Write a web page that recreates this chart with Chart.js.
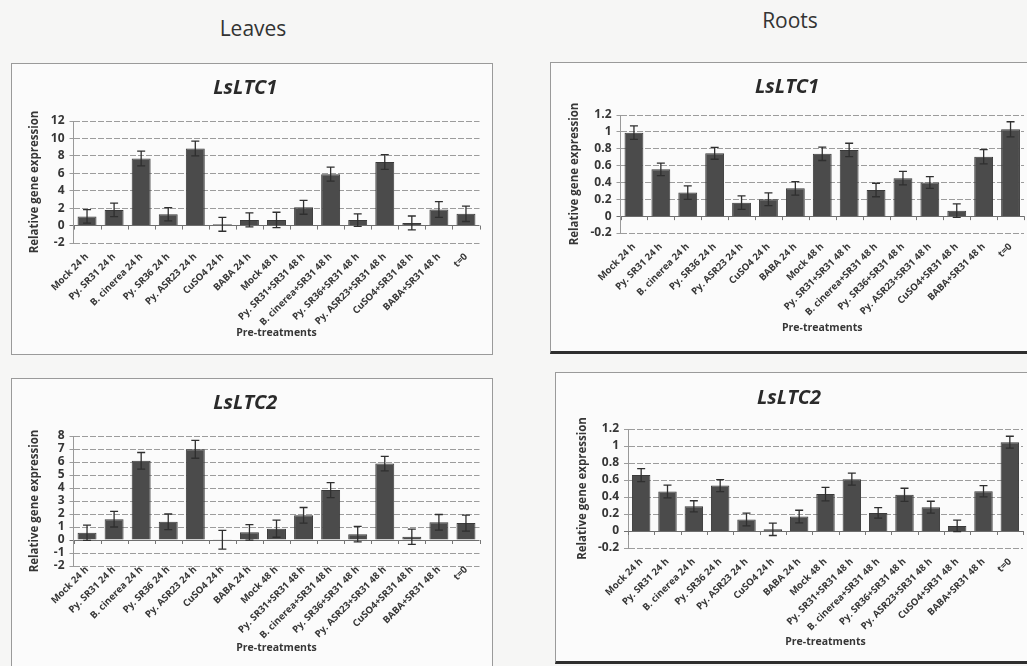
<!DOCTYPE html>
<html>
<head>
<meta charset="utf-8">
<script src="https://cdn.jsdelivr.net/npm/chart.js@4.4.1/dist/chart.umd.min.js"></script>
<style>
  html, body { margin: 0; padding: 0; }
  body { width: 1027px; height: 666px; overflow: hidden; position: relative; background: #f6f6f5; font-family: "Open Sans", sans-serif; }
  .head { position: absolute; font-size: 21px; color: #333; transform: translate(-50%, -50%); }
  canvas { position: absolute; background: #fbfbfb; }
  .frame { position: absolute; box-sizing: border-box; border: 1px solid #9a9a9a; pointer-events: none; }
</style>
</head>
<body>
<div class="head" style="left:253px;top:28px">Leaves</div>
<div class="head" style="left:790px;top:20px">Roots</div>

<canvas id="c1" width="482" height="292" style="left:11px;top:63px"></canvas>
<canvas id="c2" width="480" height="292" style="left:550px;top:62px"></canvas>
<canvas id="c3" width="482" height="292" style="left:11px;top:378px"></canvas>
<canvas id="c4" width="475" height="292" style="left:555px;top:372px"></canvas>

<div class="frame" style="left:11px;top:63px;width:482px;height:292px"></div>
<div class="frame" style="left:550px;top:62px;width:480px;height:292px;border-bottom:3px solid #2e2e2e"></div>
<div class="frame" style="left:11px;top:378px;width:482px;height:292px"></div>
<div class="frame" style="left:555px;top:372px;width:475px;height:292px;border-bottom:3px solid #2e2e2e"></div>

<script>
var categories = ['Mock 24 h', 'Py. SR31 24 h', 'B. cinerea 24 h', 'Py. SR36 24 h', 'Py. ASR23 24 h',
  'CuSO4 24 h', 'BABA 24 h', 'Mock 48 h', 'Py. SR31+SR31 48 h', 'B. cinerea+SR31 48 h',
  'Py. SR36+SR31 48 h', 'Py. ASR23+SR31 48 h', 'CuSO4+SR31 48 h', 'BABA+SR31 48 h', 't=0'];

var leavesLTC1 = [1.05, 1.8, 7.7, 1.3, 8.85, 0.15, 0.65, 0.65, 2.1, 5.9, 0.63, 7.3, 0.3, 1.85, 1.35];
var leavesLTC1Err = [0.77, 0.78, 0.84, 0.75, 0.85, 0.8, 0.8, 0.88, 0.8, 0.8, 0.72, 0.85, 0.8, 0.9, 0.88];

var rootsLTC1 = [0.99, 0.555, 0.28, 0.745, 0.16, 0.2, 0.33, 0.74, 0.785, 0.31, 0.45, 0.4, 0.065, 0.705, 1.03];
var rootsLTC1Err = [0.08, 0.075, 0.08, 0.07, 0.08, 0.075, 0.08, 0.08, 0.08, 0.08, 0.08, 0.07, 0.08, 0.085, 0.09];

var leavesLTC2 = [0.56, 1.6, 6.09, 1.4, 6.98, 0.02, 0.59, 0.87, 1.9, 3.84, 0.45, 5.88, 0.25, 1.36, 1.3];
var leavesLTC2Err = [0.59, 0.6, 0.64, 0.6, 0.69, 0.72, 0.6, 0.66, 0.6, 0.58, 0.6, 0.56, 0.58, 0.6, 0.62];

var rootsLTC2 = [0.658, 0.465, 0.29, 0.534, 0.135, 0.02, 0.17, 0.434, 0.61, 0.213, 0.426, 0.28, 0.06, 0.468, 1.045];
var rootsLTC2Err = [0.077, 0.075, 0.066, 0.07, 0.075, 0.073, 0.074, 0.08, 0.07, 0.062, 0.077, 0.07, 0.068, 0.066, 0.07];

var textColor = '#363636';

// error bars + little category ticks on the zero line
var errorBars = {
  id: 'errorBars',
  afterDatasetsDraw: function(chart) {
    var c = chart.ctx;
    var y = chart.scales.y;
    var x = chart.scales.x;
    var errs = chart.data.datasets[0].errors;
    var vals = chart.data.datasets[0].data;
    c.save();
    c.strokeStyle = '#2f2f2f';
    c.lineWidth = 1.3;
    chart.getDatasetMeta(0).data.forEach(function(bar, i) {
      var top = y.getPixelForValue(vals[i] + errs[i]);
      var bot = y.getPixelForValue(vals[i] - errs[i]);
      c.beginPath();
      c.moveTo(bar.x, top); c.lineTo(bar.x, bot);
      c.moveTo(bar.x - 4, top); c.lineTo(bar.x + 4, top);
      c.moveTo(bar.x - 4, bot); c.lineTo(bar.x + 4, bot);
      c.stroke();
    });
    var y0 = y.getPixelForValue(0);
    var step = (x.right - x.left) / categories.length;
    c.strokeStyle = '#777';
    c.lineWidth = 1;
    for (var k = 0; k <= categories.length; k++) {
      var px = Math.round(x.left + k * step) + 0.5;
      c.beginPath(); c.moveTo(px, y0); c.lineTo(px, y0 + 4); c.stroke();
    }
    c.restore();
  }
};

function makePanel(id, name, values, errs, yMin, yMax, yStep, g) {
  new Chart(document.getElementById(id), {
    type: 'bar',
    data: {
      labels: categories,
      datasets: [{
        data: values,
        errors: errs,
        backgroundColor: '#4b4b4b',
        borderColor: '#3a3a3a',
        borderWidth: 1,
        categoryPercentage: 1,
        barPercentage: 0.7
      }]
    },
    options: {
      responsive: false,
      animation: false,
      layout: { padding: { top: 0, left: 0, right: g.right, bottom: 0 } },
      plugins: {
        legend: { display: false },
        tooltip: { enabled: false },
        title: {
          display: true,
          text: name,
          color: '#2a2a2a',
          font: { family: 'Open Sans', size: 20, weight: 'bold', style: 'italic', lineHeight: 1.2 },
          padding: { top: g.titleTop, bottom: g.titleBottom }
        }
      },
      scales: {
        x: {
          grid: { display: false },
          border: { display: false },
          ticks: {
            autoSkip: false, minRotation: 45, maxRotation: 45, padding: g.xPad,
            color: textColor, font: { family: 'Open Sans', size: 9.6, weight: 'bold' }
          },
          title: {
            display: true, text: 'Pre-treatments', color: textColor,
            font: { family: 'Open Sans', size: 10.5, weight: 'bold', lineHeight: 1.2 },
            padding: { top: 0, bottom: g.xTitleBottom }
          },
          afterFit: function(s) { s.height = g.xHeight; }
        },
        y: {
          min: yMin, max: yMax,
          ticks: {
            stepSize: yStep, autoSkip: false, padding: 5, color: textColor,
            font: { family: 'Open Sans', size: 12, weight: 'bold' },
            callback: function(v) { return String(+v.toFixed(1)); }
          },
          grid: {
            color: function(ctx) { return ctx.tick && Math.abs(ctx.tick.value) < 1e-9 ? '#6e6e6e' : '#9c9c9c'; },
            tickLength: 4
          },
          border: {
            display: true, color: '#999',
            dash: function(ctx) { return ctx.tick && Math.abs(ctx.tick.value) < 1e-9 ? [] : [6, 2]; }
          },
          title: {
            display: true, text: 'Relative gene expression', color: textColor,
            font: { family: 'Open Sans', size: 11.5, weight: 'bold', lineHeight: 1.2 },
            padding: { top: g.yTitleTop, bottom: 0 }
          },
          afterFit: function(s) { s.width = g.yWidth; }
        }
      }
    },
    plugins: [errorBars]
  });
}

makePanel('c1', 'LsLTC1', leavesLTC1, leavesLTC1Err, -2, 12, 2,
  { right: 13.5, yWidth: 62.5, titleTop: 13, titleBottom: 21, xHeight: 112, xPad: 0, xTitleBottom: 15.7, yTitleTop: 17 });
makePanel('c2', 'LsLTC1', rootsLTC1, rootsLTC1Err, -0.2, 1.2, 0.2,
  { right: 6, yWidth: 70.5, titleTop: 13, titleBottom: 16, xHeight: 121, xPad: 0, xTitleBottom: 19.7, yTitleTop: 18 });
makePanel('c3', 'LsLTC2', leavesLTC2, leavesLTC2Err, -2, 8, 1,
  { right: 13.5, yWidth: 62.5, titleTop: 13, titleBottom: 21, xHeight: 104, xPad: -10, xTitleBottom: 15.7, yTitleTop: 17 });
makePanel('c4', 'LsLTC2', rootsLTC2, rootsLTC2Err, -0.2, 1.2, 0.2,
  { right: 7, yWidth: 73, titleTop: 14, titleBottom: 19, xHeight: 116, xPad: 0, xTitleBottom: 15.7, yTitleTop: 21 });
</script>
</body>
</html>
